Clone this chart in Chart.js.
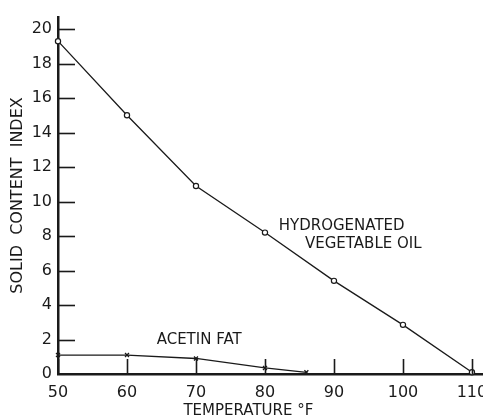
<!DOCTYPE html>
<html>
<head>
<meta charset="utf-8">
<script src="https://cdn.jsdelivr.net/npm/chart.js@4.4.1/dist/chart.umd.min.js"></script>
<style>
  html, body { margin: 0; padding: 0; background: #fff; }
  #wrap { width: 483px; height: 418px; }
</style>
</head>
<body>
<div id="wrap"><canvas id="solidChart"></canvas></div>
<script>
// temperature (deg F) vs solid content index
var hydroTemps = [50, 60, 70, 80, 90, 100, 110];
var hydroSci = [19.3, 15.0, 10.9, 8.2, 5.4, 2.85, 0.1];
var acetinTemps = [50, 60, 70, 80, 86];
var acetinSci = [1.1, 1.1, 0.9, 0.35, 0.1];
var xTicks = [50, 60, 70, 80, 90, 100, 110];
var yTicks = [0, 2, 4, 6, 8, 10, 12, 14, 16, 18, 20];

var ink = '#1a1a1a';
var fontName = '"DejaVu Sans", sans-serif';

// hand-lettered notes placed in data units
var notes = [
  { text: 'HYDROGENATED', x: 82.0, y: 8.6, align: 'left' },
  { text: 'VEGETABLE OIL', x: 85.8, y: 7.55, align: 'left' },
  { text: 'ACETIN FAT', x: 64.3, y: 1.95, align: 'left' },
  { text: 'TEMPERATURE \u00B0F', x: 77.6, y: -2.15, align: 'center' }
];

function toPoints(xs, ys) {
  var pts = [];
  for (var i = 0; i < xs.length; i++) {
    pts.push({ x: xs[i], y: ys[i] });
  }
  return pts;
}

// tick marks point into the plot, and the notes
var inkPlugin = {
  id: 'inkPlugin',
  afterDatasetsDraw: function(chart) {
    var c = chart.ctx;
    var xs = chart.scales.x;
    var ys = chart.scales.y;
    var area = chart.chartArea;
    c.save();
    c.strokeStyle = ink;
    c.lineWidth = 1.6;
    yTicks.forEach(function(v) {
      if (v === 0) return;
      var py = Math.round(ys.getPixelForValue(v)) + 0.5;
      c.beginPath();
      c.moveTo(area.left, py);
      c.lineTo(area.left + 17, py);
      c.stroke();
    });
    xTicks.forEach(function(v) {
      var px = Math.round(xs.getPixelForValue(v)) + 0.5;
      c.beginPath();
      c.moveTo(px, area.bottom);
      c.lineTo(px, area.bottom - 15);
      c.stroke();
    });
    c.fillStyle = ink;
    c.font = '15px ' + fontName;
    c.textBaseline = 'middle';
    notes.forEach(function(n) {
      c.textAlign = n.align;
      c.fillText(n.text, xs.getPixelForValue(n.x), ys.getPixelForValue(n.y));
    });
    c.restore();
  }
};

var ctx = document.getElementById('solidChart');

var chart = new Chart(ctx, {
  type: 'line',
  data: {
    datasets: [
      {
        label: 'Hydrogenated vegetable oil',
        data: toPoints(hydroTemps, hydroSci),
        borderColor: ink,
        borderWidth: 1.3,
        backgroundColor: '#fff',
        pointStyle: 'circle',
        pointRadius: 2.6,
        pointBorderWidth: 1.2,
        pointBorderColor: ink,
        pointBackgroundColor: '#fff',
        tension: 0,
        clip: false
      },
      {
        label: 'Acetin fat',
        data: toPoints(acetinTemps, acetinSci),
        borderColor: ink,
        borderWidth: 1.3,
        pointStyle: 'crossRot',
        pointRadius: 2.8,
        pointBorderWidth: 1.3,
        pointBorderColor: ink,
        tension: 0,
        clip: false
      }
    ]
  },
  options: {
    responsive: true,
    maintainAspectRatio: false,
    animation: false,
    layout: { autoPadding: false, padding: { top: 17, right: 0, bottom: 0, left: 0 } },
    plugins: {
      legend: { display: false },
      tooltip: { enabled: false }
    },
    scales: {
      x: {
        type: 'linear',
        min: 50,
        max: 111.6,
        afterBuildTicks: function(scale) {
          scale.ticks = xTicks.map(function(v) { return { value: v }; });
        },
        afterFit: function(scale) {
          scale.height = 44;
          scale.paddingLeft = 0;
          scale.paddingRight = 0;
        },
        grid: { display: false, drawTicks: false },
        border: { display: true, color: ink, width: 2.5 },
        ticks: {
          color: ink,
          padding: 9,
          maxRotation: 0,
          font: { family: fontName, size: 16 }
        }
      },
      y: {
        type: 'linear',
        min: 0,
        max: 20.7,
        afterBuildTicks: function(scale) {
          scale.ticks = yTicks.map(function(v) { return { value: v }; });
        },
        afterFit: function(scale) {
          scale.width = 58;
          scale.paddingTop = 0;
          scale.paddingBottom = 0;
        },
        grid: { display: false, drawTicks: false },
        border: { display: true, color: ink, width: 2.5 },
        ticks: {
          color: ink,
          padding: 6,
          font: { family: fontName, size: 16 }
        },
        title: {
          display: true,
          text: 'SOLID  CONTENT  INDEX',
          color: ink,
          padding: { top: 10, bottom: 0 },
          font: { family: fontName, size: 16, lineHeight: 1 }
        }
      }
    }
  },
  plugins: [inkPlugin]
});
</script>
</body>
</html>
